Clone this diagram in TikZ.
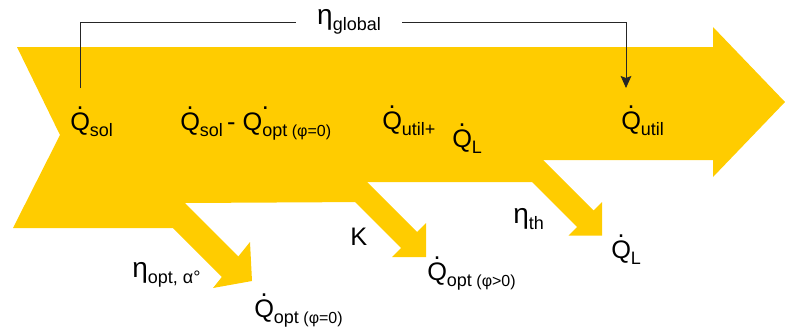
\documentclass[tikz,border=0pt]{standalone}
\usepackage{fontspec}
\setmainfont{Liberation Sans}
\usetikzlibrary{arrows.meta}
\definecolor{sun}{HTML}{FFCC00}
\newcommand\qd{\makebox[0pt][l]{\hspace{0.25em}\raisebox{0.8em}[0pt][0pt]{.}}Q}
\newcommand\qs{Q\makebox[0pt][l]{\hspace{-0.02em}\raisebox{0.8em}[0pt][0pt]{.}}}
\newcommand\sbs[1]{\raisebox{-5pt}{\fontsize{13.5}{15}\selectfont #1}}
\newcommand\smp[1]{{\fontsize{12}{14}\selectfont #1}}
\newcommand\etaBig{{\fontsize{21}{24}\selectfont η}}
\begin{document}
\begin{tikzpicture}[x=0.75pt,y=-0.75pt,
  lbl/.style={inner sep=0pt, anchor=base west, font=\fontsize{19}{22}\selectfont},
  band/.style={fill=sun, draw=none},
  link/.style={draw=black!85, line width=0.6pt}]
\useasboundingbox (0,0) rectangle (785,332);
% main arrow body
\fill[band] (17,47) -- (713,47) -- (713,27) -- (785,102) -- (713,177) -- (713,160)
  -- (543,160) -- (543,182) -- (367,182) -- (367,202) -- (185,203) -- (185,228)
  -- (13,228) -- (60,135) -- cycle;
% branch: eta_th
\fill[band] (543,160) -- (593.5,210.5) -- (602,202) -- (602,235.5) -- (568.5,235.5)
  -- (577,227) -- (532,182) -- cycle;
% branch: K
\fill[band] (367,182) -- (417,232) -- (426,223) -- (426,257) -- (392,257)
  -- (401,248) -- (355,202) -- cycle;
% branch: eta_opt
\fill[band] (185,203) -- (238.4,256.4) -- (250,242) -- (252,281) -- (213,288)
  -- (221.9,276.9) -- (173,228) -- cycle;
% labels
\node[lbl] (qsol) at (70,130) {\qd\sbs{sol}};
\node[lbl] (qdiff) at (180,130) {\qd\sbs{sol}\,-\ \qs\sbs{opt\smp{ (φ=0)}}};
\node[lbl] (qutl) at (382,129) {\qd\sbs{util+}};
\node[lbl] (qla) at (452,147) {\qd\sbs{L}};
\node[lbl] (qutil) at (621,129) {\qd\sbs{util}};
\node[lbl] (kk) at (350,245) {K};
\node[lbl] (eth) at (513,223) {\etaBig\sbs{th}};
\node[lbl] (qlb) at (611,258) {\qd\sbs{L}};
\node[lbl] (qoptb) at (427,280) {\qd\sbs{opt\smp{ (φ>0)}}};
\node[lbl] (eopt) at (132,277) {\etaBig\sbs{opt, α°}};
\node[lbl] (qopta) at (254,317) {\qd\sbs{opt\smp{ (φ=0)}}};
\node[lbl, anchor=center, inner xsep=16pt] (glob) at (349,22) {\etaBig\sbs{global}};
% connector
\coordinate (gs) at (80,88);
\coordinate (ge) at (626,88);
\draw[link] (gs) |- (glob.west);
\draw[link, -{Stealth[length=9pt,width=8pt,inset=1.5pt]}] (glob.east) -| (ge);
\end{tikzpicture}
\end{document}
